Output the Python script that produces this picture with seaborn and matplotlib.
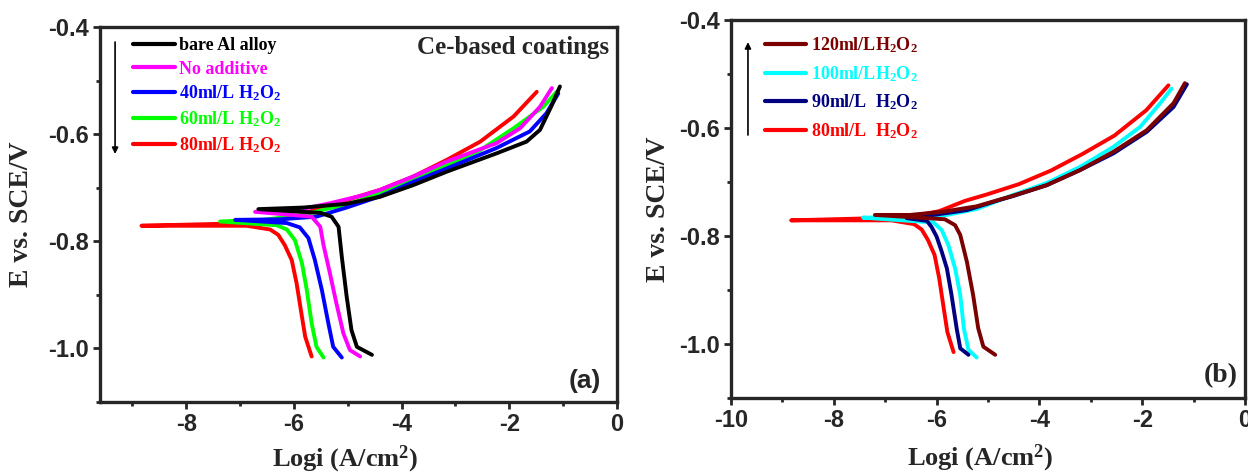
import numpy as np
import pandas as pd
import matplotlib
matplotlib.use("Agg")
import matplotlib.pyplot as plt
from matplotlib.ticker import MultipleLocator
from matplotlib.lines import Line2D
import seaborn as sns

# ---------------- data ----------------
# each curve: cathodic end -> corrosion potential tip -> anodic end
bare_logi = [-4.55, -4.83, -4.93, -5.02, -5.11, -5.17, -5.30, -5.51, -6.66,
             -5.82, -5.02, -4.40, -3.78, -3.16, -2.24, -1.68, -1.43, -1.21, -1.06]
bare_E = [-1.012, -0.997, -0.966, -0.903, -0.829, -0.773, -0.754, -0.747, -0.740,
          -0.737, -0.730, -0.717, -0.695, -0.670, -0.636, -0.614, -0.592, -0.546, -0.511]

noadd_logi = [-4.77, -4.96, -5.08, -5.21, -5.33, -5.45, -5.51, -5.67, -6.72,
              -5.95, -5.33, -4.71, -4.40, -3.78, -3.16, -2.24, -1.80, -1.43, -1.21]
noadd_E = [-1.015, -1.003, -0.972, -0.916, -0.860, -0.807, -0.773, -0.754, -0.745,
           -0.742, -0.729, -0.714, -0.704, -0.679, -0.651, -0.617, -0.589, -0.549, -0.514]

h40_logi = [-5.11, -5.27, -5.36, -5.48, -5.61, -5.73, -5.89, -6.13, -7.09,
            -6.26, -5.58, -5.02, -4.40, -3.78, -3.16, -2.24, -1.62, -1.31, -1.09]
h40_E = [-1.017, -0.997, -0.953, -0.891, -0.835, -0.794, -0.774, -0.766, -0.760,
         -0.759, -0.754, -0.737, -0.716, -0.689, -0.664, -0.626, -0.595, -0.561, -0.524]

h60_logi = [-5.45, -5.58, -5.67, -5.76, -5.85, -5.98, -6.13, -6.32, -7.37,
            -6.57, -5.83, -5.33, -5.02, -4.40, -3.78, -3.16, -2.54, -1.92, -1.37, -1.12]
h60_E = [-1.017, -0.997, -0.953, -0.891, -0.841, -0.798, -0.778, -0.770, -0.763,
         -0.760, -0.751, -0.738, -0.732, -0.710, -0.682, -0.658, -0.630, -0.589, -0.549, -0.521]

h80_logi = [-5.67, -5.79, -5.85, -5.95, -6.04, -6.17, -6.29, -6.44, -6.88, -8.83,
            -7.19, -6.44, -5.95, -5.45, -5.02, -4.40, -3.78, -3.16, -2.54, -1.92, -1.49]
h80_E = [-1.015, -0.978, -0.941, -0.878, -0.835, -0.807, -0.788, -0.778, -0.771, -0.771,
         -0.767, -0.763, -0.754, -0.735, -0.723, -0.704, -0.679, -0.648, -0.614, -0.567, -0.521]

h90_logi = [-5.38, -5.54, -5.61, -5.71, -5.80, -5.90, -6.00, -6.10, -6.19, -6.58,
            -6.06, -5.41, -4.77, -4.51, -3.86, -3.21, -2.56, -1.91, -1.39, -1.13]
h90_E = [-1.020, -1.008, -0.971, -0.909, -0.860, -0.829, -0.801, -0.783, -0.772, -0.767,
         -0.761, -0.752, -0.733, -0.726, -0.706, -0.678, -0.647, -0.607, -0.561, -0.519]

h100_logi = [-5.22, -5.38, -5.47, -5.54, -5.64, -5.77, -5.90, -6.06, -7.43,
             -6.52, -5.80, -5.22, -4.51, -3.86, -3.21, -2.56, -2.04, -1.65, -1.43]
h100_E = [-1.025, -1.011, -0.971, -0.909, -0.860, -0.817, -0.789, -0.775, -0.766,
          -0.765, -0.761, -0.750, -0.724, -0.702, -0.672, -0.635, -0.598, -0.554, -0.527]

h120_logi = [-4.86, -5.09, -5.19, -5.29, -5.41, -5.54, -5.64, -5.84, -7.20,
             -6.52, -5.87, -5.22, -4.57, -3.86, -3.21, -2.56, -1.91, -1.39, -1.17]
h120_E = [-1.020, -1.005, -0.971, -0.909, -0.848, -0.798, -0.780, -0.769, -0.761,
          -0.761, -0.755, -0.745, -0.727, -0.706, -0.678, -0.644, -0.604, -0.554, -0.517]

labels_a = ["bare Al alloy", "No additive", "40ml/L H$_2$O$_2$",
            "60ml/L H$_2$O$_2$", "80ml/L H$_2$O$_2$"]
labels_b = ["120ml/LH$_2$O$_2$", "100ml/LH$_2$O$_2$",
            "90ml/L  H$_2$O$_2$", "80ml/L  H$_2$O$_2$"]

colors_a = ["#000000", "#FF00FF", "#0000FF", "#00FF00", "#FF0000"]
colors_b = ["#7B0000", "#00FFFF", "#000080", "#FF0000"]

xticks_a = [-8, -6, -4, -2, 0]
xticks_b = [-10, -8, -6, -4, -2, 0]
yticks = [-0.4, -0.6, -0.8, -1.0]

# ---------------- style ----------------
sns.set_style("ticks")
plt.rcParams["font.family"] = ["Liberation Sans", "DejaVu Sans"]
plt.rcParams["font.weight"] = "bold"
plt.rcParams["axes.unicode_minus"] = False
plt.rcParams["mathtext.fontset"] = "custom"
plt.rcParams["mathtext.rm"] = "Liberation Serif:bold"
plt.rcParams["mathtext.it"] = "Liberation Serif:bold"
plt.rcParams["mathtext.bf"] = "Liberation Serif:bold"

serif = ["Liberation Serif", "DejaVu Serif"]

fig = plt.figure(figsize=(12.48, 4.76), dpi=100)
ax_a = fig.add_axes([100 / 1248, 1 - 402 / 476, 517 / 1248, 375 / 476])
ax_b = fig.add_axes([731 / 1248, 1 - 398 / 476, 514 / 1248, 378 / 476])


def make_df(series):
    rows = []
    for name, xs, ys in series:
        for i, (x, y) in enumerate(zip(xs, ys)):
            rows.append({"sample": name, "order": i, "logi": x, "E": y})
    return pd.DataFrame(rows)


series_a = [
    (labels_a[4], h80_logi, h80_E),
    (labels_a[3], h60_logi, h60_E),
    (labels_a[2], h40_logi, h40_E),
    (labels_a[1], noadd_logi, noadd_E),
    (labels_a[0], bare_logi, bare_E),
]
series_b = [
    (labels_b[3], h80_logi, h80_E),
    (labels_b[1], h100_logi, h100_E),
    (labels_b[2], h90_logi, h90_E),
    (labels_b[0], h120_logi, h120_E),
]

pal_a = dict(zip(labels_a, colors_a))
pal_b = dict(zip(labels_b, colors_b))

df_a = make_df(series_a)
df_b = make_df(series_b)

sns.lineplot(data=df_a, x="logi", y="E", hue="sample",
             hue_order=[s[0] for s in series_a], palette=pal_a,
             sort=False, estimator=None, lw=2.8, legend=False, ax=ax_a)
sns.lineplot(data=df_b, x="logi", y="E", hue="sample",
             hue_order=[s[0] for s in series_b], palette=pal_b,
             sort=False, estimator=None, lw=2.8, legend=False, ax=ax_b)
for ax in (ax_a, ax_b):
    for ln in ax.get_lines():
        ln.set_solid_joinstyle("round")
        ln.set_solid_capstyle("round")


def style_axes(ax, xlim, xticks):
    ax.set_xlim(*xlim)
    ax.set_ylim(-1.1, -0.4)
    ax.set_xticks(xticks)
    ax.set_yticks(yticks)
    ax.set_yticklabels([f"{v:.1f}" for v in yticks])
    ax.set_xticklabels([f"{v:d}" for v in xticks])
    ax.xaxis.set_minor_locator(MultipleLocator(1))
    ax.yaxis.set_minor_locator(MultipleLocator(0.1))
    ax.tick_params(which="major", direction="out", length=5, width=2,
                   labelsize=17, pad=3)
    ax.tick_params(which="minor", direction="out", length=3, width=2)
    for lab in ax.get_xticklabels() + ax.get_yticklabels():
        lab.set_fontweight("bold")
    for sp in ax.spines.values():
        sp.set_linewidth(2.4)
        sp.set_visible(True)
    ax.set_ylabel("E vs. SCE/V", family=serif, fontsize=20, fontweight="bold")


style_axes(ax_a, (-9.6, 0), xticks_a)
style_axes(ax_b, (-10, 0), xticks_b)

ax_a.set_xlabel("Logi (A/cm$^\\mathbf{2}$)", family=serif, fontsize=19, fontweight="bold")
ax_b.set_xlabel("Logi (A/cm$^2$)", family=serif, fontsize=19, fontweight="bold")
ax_a.yaxis.set_label_coords(-0.128, 0.5)
ax_b.yaxis.set_label_coords(-0.117, 0.5)
ax_a.xaxis.set_label_coords(0.474, -0.112)
ax_b.xaxis.set_label_coords(0.484, -0.118)


# legends
def add_legend(ax, labels, colors, anchor, spacing):
    handles = [Line2D([], [], color=c, lw=3) for c in colors]
    leg = ax.legend(handles, labels, loc="upper left", bbox_to_anchor=anchor,
                    frameon=False, fontsize=13, handlelength=2.3,
                    handletextpad=0.25, labelspacing=spacing,
                    borderaxespad=0, borderpad=0)
    for t, c in zip(leg.get_texts(), colors):
        t.set_color(c)
        t.set_family(serif)
        t.set_fontweight("bold")
    return leg


add_legend(ax_a, labels_a, colors_a, (0.064, 0.972), 0.34)
add_legend(ax_b, labels_b, colors_b, (0.066, 0.96), 0.5)

# arrows
ax_a.annotate("", xy=(-9.32, -0.637), xytext=(-9.32, -0.428),
              arrowprops=dict(arrowstyle="-|>", lw=1.2, color="black",
                              mutation_scale=9, shrinkA=0, shrinkB=0))
ax_b.annotate("", xy=(-9.67, -0.441), xytext=(-9.67, -0.613),
              arrowprops=dict(arrowstyle="-|>", lw=1.2, color="black",
                              mutation_scale=9, shrinkA=0, shrinkB=0))

# annotations
ax_a.text(0.985, 0.945, "Ce-based coatings", transform=ax_a.transAxes,
          ha="right", va="center", family=serif, fontsize=18, fontweight="bold")
ax_a.text(0.97, 0.055, "(a)", transform=ax_a.transAxes, ha="right", va="center",
          fontsize=19, fontweight="bold")
ax_b.text(0.985, 0.06, "(b)", transform=ax_b.transAxes, ha="right", va="center",
          family=serif, fontsize=20, fontweight="bold")

fig.savefig("out.png", dpi=100)
